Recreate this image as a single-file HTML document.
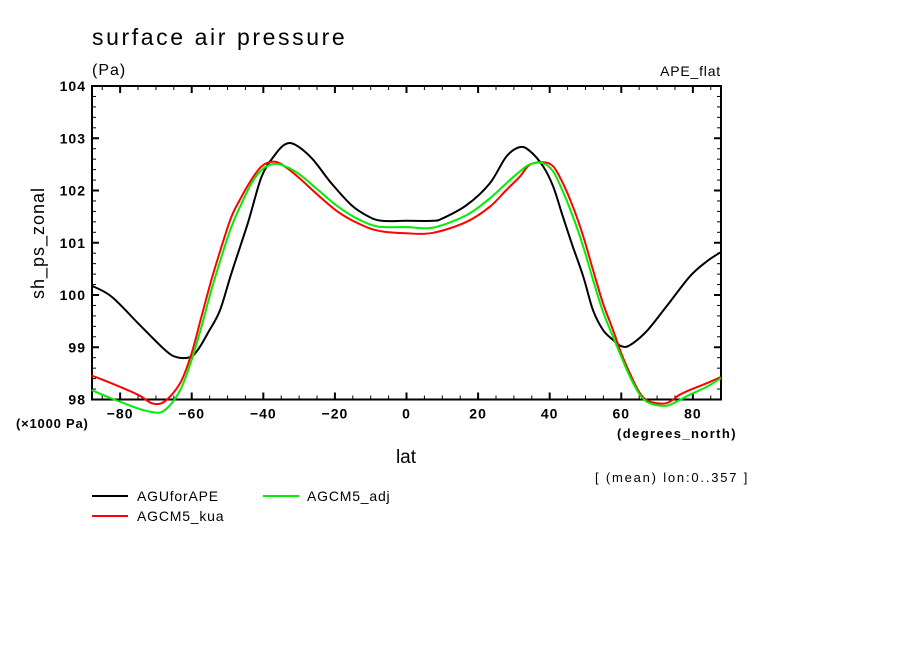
<!DOCTYPE html>
<html><head><meta charset="utf-8"><style>
html,body{margin:0;padding:0;background:#fff;}
svg{display:block;font-family:"Liberation Sans",sans-serif;}
</style></head><body>
<svg id="chart" width="904" height="654" viewBox="0 0 904 654" xmlns="http://www.w3.org/2000/svg">
<rect width="904" height="654" fill="#fff"/>
<text x="92" y="45" font-size="23" letter-spacing="2.6" fill="#000">surface air pressure</text>
<text x="92" y="75" font-size="16" letter-spacing="1" fill="#000">(Pa)</text>
<text x="721" y="76" font-size="14" letter-spacing="0.8" text-anchor="end" fill="#000">APE_flat</text>
<text transform="translate(44,243) rotate(-90)" font-size="18" letter-spacing="1" text-anchor="middle" fill="#000">sh_ps_zonal</text>
<text x="16" y="428" font-size="13" font-weight="bold" letter-spacing="0.8" fill="#000">(×1000 Pa)</text>
<text x="406" y="463" font-size="19" text-anchor="middle" fill="#000">lat</text>
<text x="617" y="438" font-size="13" font-weight="bold" letter-spacing="1.4" fill="#000">(degrees_north)</text>
<text x="595" y="482" font-size="13" letter-spacing="1.8" fill="#000">[ (mean) lon:0..357 ]</text>
<g id="axes"></g>
<g id="series"></g>
<g id="legend">
<line x1="92" y1="496" x2="128" y2="496" stroke="#000" stroke-width="2"/>
<text x="137" y="501" font-size="14" letter-spacing="0.8" fill="#000">AGUforAPE</text>
<line x1="92" y1="516" x2="128" y2="516" stroke="#f00" stroke-width="2"/>
<text x="137" y="521" font-size="14" letter-spacing="0.8" fill="#000">AGCM5_kua</text>
<line x1="263" y1="496" x2="299" y2="496" stroke="#0e0" stroke-width="2"/>
<text x="307" y="501" font-size="14" letter-spacing="0.8" fill="#000">AGCM5_adj</text>
</g>
</svg>
<script>
const xTicks = [-80,-60,-40,-20,0,20,40,60,80];
const yTicks = [98,99,100,101,102,103,104];
const latBlack = [-88,-82.4,-75,-67.5,-64.2,-60.5,-58.3,-55.5,-52.1,-48.9,-44.3,-40.5,-36.8,-34,-31.2,-26.5,-21,-15.4,-10.8,-7,0,7.4,10.2,16.8,23.3,27.9,31.6,34.4,38.2,41,43.7,46.5,49.4,52.1,54.9,57.7,60,62.4,67,72.6,79.1,83.8,87.8];
const valBlack = [100.18,99.97,99.46,98.95,98.81,98.81,98.95,99.27,99.71,100.42,101.38,102.26,102.68,102.88,102.88,102.62,102.14,101.72,101.51,101.42,101.42,101.42,101.47,101.72,102.14,102.65,102.83,102.76,102.46,102.07,101.5,100.92,100.35,99.71,99.33,99.14,99.02,99.04,99.30,99.78,100.35,100.64,100.82];
const latRed = [-88,-82.4,-75,-71.2,-68.4,-65.6,-62.8,-60,-57.3,-54.5,-51.7,-48.9,-46.1,-43.3,-40.5,-37.7,-34.9,-30.3,-24.7,-19.1,-13.5,-7.9,0,7.4,16.8,23.3,27.9,31.6,34.4,38.2,41,43.7,46.5,49.4,52.1,54.9,57.7,60,62.4,65.2,67.9,72.6,76.3,79.1,83.8,87.8];
const valRed = [98.46,98.31,98.09,97.93,97.93,98.09,98.37,98.89,99.58,100.29,100.92,101.5,101.88,102.21,102.46,102.55,102.5,102.26,101.91,101.59,101.37,101.23,101.18,101.19,101.40,101.69,102.01,102.26,102.49,102.54,102.46,102.14,101.69,101.12,100.48,99.84,99.33,98.88,98.50,98.12,97.96,97.93,98.09,98.18,98.31,98.43];
const latGreen = [-88,-82.4,-75,-71.2,-68.4,-65.6,-62.8,-60,-57.3,-54.5,-51.7,-48.9,-46.1,-43.3,-40.5,-37.7,-34.9,-30.3,-24.7,-19.1,-13.5,-7.9,0,7.4,16.8,23.3,27.9,31.6,34.4,38.2,41,43.7,46.5,49.4,52.1,54.9,57.7,60,62.4,65.2,67.9,72.6,76.3,79.1,83.8,87.8];
const valGreen = [98.18,98.02,97.83,97.76,97.76,97.93,98.24,98.76,99.39,100.1,100.73,101.31,101.75,102.14,102.39,102.5,102.49,102.33,102.01,101.69,101.45,101.31,101.30,101.29,101.53,101.85,102.14,102.36,102.5,102.52,102.36,101.98,101.5,100.92,100.29,99.68,99.2,98.82,98.44,98.09,97.93,97.88,97.99,98.09,98.24,98.41];

const NS='http://www.w3.org/2000/svg';
const L=92,R=721,T=86,B=399.5;
const XMIN=-87.86,XMAX=87.86,YMIN=98,YMAX=104;
function xs(v){return L+(v-XMIN)/(XMAX-XMIN)*(R-L);}
function ys(v){return B-(v-YMIN)/(YMAX-YMIN)*(B-T);}
function mk(tag,attrs,parent){const e=document.createElementNS(NS,tag);for(const k in attrs)e.setAttribute(k,attrs[k]);parent.appendChild(e);return e;}
const ax=document.getElementById('axes');
const frame=mk('rect',{x:L,y:T,width:R-L,height:B-T,fill:'none',stroke:'#000','stroke-width':2},ax);


for(let v=-85;v<=85;v+=5){
  const major=(v%20===0);const len=major?7:4;const x=xs(v);
  const t1=mk('line',{x1:x,y1:B,x2:x,y2:B-len,stroke:'#000','stroke-width':major?2:1},ax);
  
  
  const t2=mk('line',{x1:x,y1:T,x2:x,y2:T+len,stroke:'#000','stroke-width':major?2:1},ax);
  
  
}
xTicks.forEach(v=>{
  const t=mk('text',{x:xs(v),y:B+19,'font-size':14,'font-weight':'bold','text-anchor':'middle','letter-spacing':1},ax);
  t.textContent=(v<0?'\u2212':'')+Math.abs(v);
  
  
});
for(let i=0;i<=30;i++){
  const v=YMIN+i*0.2;const major=(i%5===0);const len=major?7:4;const y=ys(v);
  const a=mk('line',{x1:L,y1:y,x2:L+len,y2:y,stroke:'#000','stroke-width':major?2:1},ax);
  
  
  const b=mk('line',{x1:R,y1:y,x2:R-len,y2:y,stroke:'#000','stroke-width':major?2:1},ax);
  
  
}
yTicks.forEach(v=>{
  const t=mk('text',{x:L-6,y:ys(v)+5,'font-size':14,'font-weight':'bold','text-anchor':'end','letter-spacing':1},ax);
  t.textContent=v;
  
  
});
const sg=document.getElementById('series');
function line(lats,vals,color,name){
  const P=lats.map((la,i)=>[xs(la),ys(vals[i])]);
  let d='M'+P[0][0].toFixed(1)+','+P[0][1].toFixed(1);
  for(let i=0;i<P.length-1;i++){
    const p0=P[Math.max(0,i-1)],p1=P[i],p2=P[i+1],p3=P[Math.min(P.length-1,i+2)];
    const c1=[p1[0]+(p2[0]-p0[0])/6,p1[1]+(p2[1]-p0[1])/6];
    const c2=[p2[0]-(p3[0]-p1[0])/6,p2[1]-(p3[1]-p1[1])/6];
    d+=' C'+c1[0].toFixed(1)+','+c1[1].toFixed(1)+' '+c2[0].toFixed(1)+','+c2[1].toFixed(1)+' '+p2[0].toFixed(1)+','+p2[1].toFixed(1);
  }
  const p=mk('path',{d:d,fill:'none',stroke:color,'stroke-width':2,'stroke-linejoin':'round'},sg);
  
  
}
line(latBlack,valBlack,'#000','line-aguforape');
line(latRed,valRed,'#f00','line-agcm5-kua');
line(latGreen,valGreen,'#0e0','line-agcm5-adj');
</script>
</body></html>
